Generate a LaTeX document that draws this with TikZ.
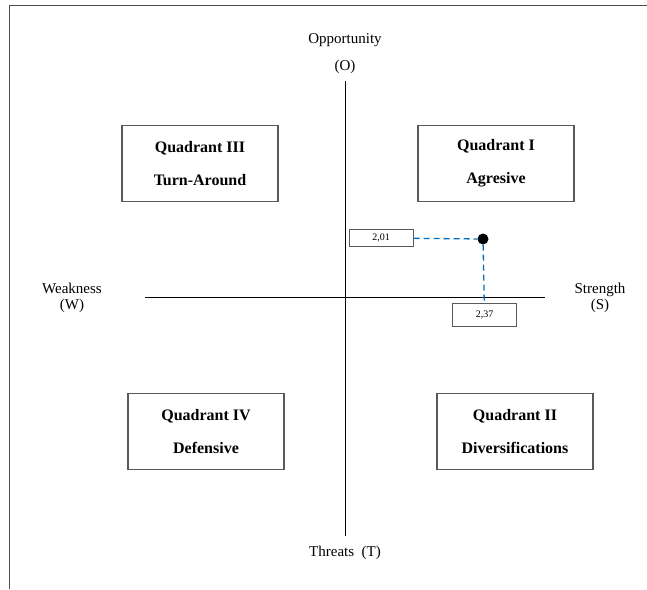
\documentclass[tikz,border=0pt]{standalone}
\usepackage{fontspec}
\setmainfont{Liberation Serif}
\usetikzlibrary{positioning}
\definecolor{dashblue}{RGB}{0,112,192}
\begin{document}
\begin{tikzpicture}[x=1pt,y=-1pt,
  point/.style = {circle, fill = black, inner sep = 0pt, minimum size = 11pt},
  quad/.style = {draw = black!65, line width = 1.4pt, minimum width = 156pt, minimum height = 76pt, align = center, font = \fontsize{16}{33}\selectfont\bfseries},
  val/.style = {draw = black!65, line width = 1pt, inner sep = 0pt, font = \fontsize{10}{11}\selectfont},
  lbl/.style = {align = center, font = \fontsize{15}{16}\selectfont},
  guide/.style = {dashblue, line width = 1.3pt, dash pattern = on 6pt off 4pt}]
\useasboundingbox (0,0) rectangle (647,589);
\draw[black!70, line width = 1pt] (647,5) -- (9,5) -- (9,589);
% axes
\coordinate (top) at (345,81);
\coordinate (bot) at (345,536);
\coordinate (lft) at (145,297);
\coordinate (rgt) at (545,297);
\draw[line width = 1pt] (top) -- (bot);
\draw[line width = 1pt] (lft) -- (rgt);
\node (opp) at (345,54)[lbl, font = \fontsize{15}{27}\selectfont] {Opportunity\\(O)};
\node (thr) at (345,553)[lbl] {Threats\ \ (T)};
\node (weak) at (72,298)[lbl] {Weakness\\(W)};
\node (str) at (600,298)[lbl] {Strength\\(S)};
% quadrants
\node (q3) at (200,163.5)[quad] {Quadrant III\\Turn-Around};
\node (q1) at (496,163.5)[quad] {Quadrant I\\Agresive};
\node (q4) at (206,431.5)[quad] {Quadrant IV\\Defensive};
\node (q2) at (515,431.5)[quad] {Quadrant II\\Diversifications};
% position
\node (P) at (483,239)[point] {};
\node (v1) at (381,238)[val, minimum width = 64pt, minimum height = 17pt] {2,01};
\node (v2) at (484.5,314.5)[val, minimum width = 64pt, minimum height = 23pt] {2,37};
\draw[guide] (v1) -- (P);
\draw[guide] (P) -- (v2);
\end{tikzpicture}
\end{document}
